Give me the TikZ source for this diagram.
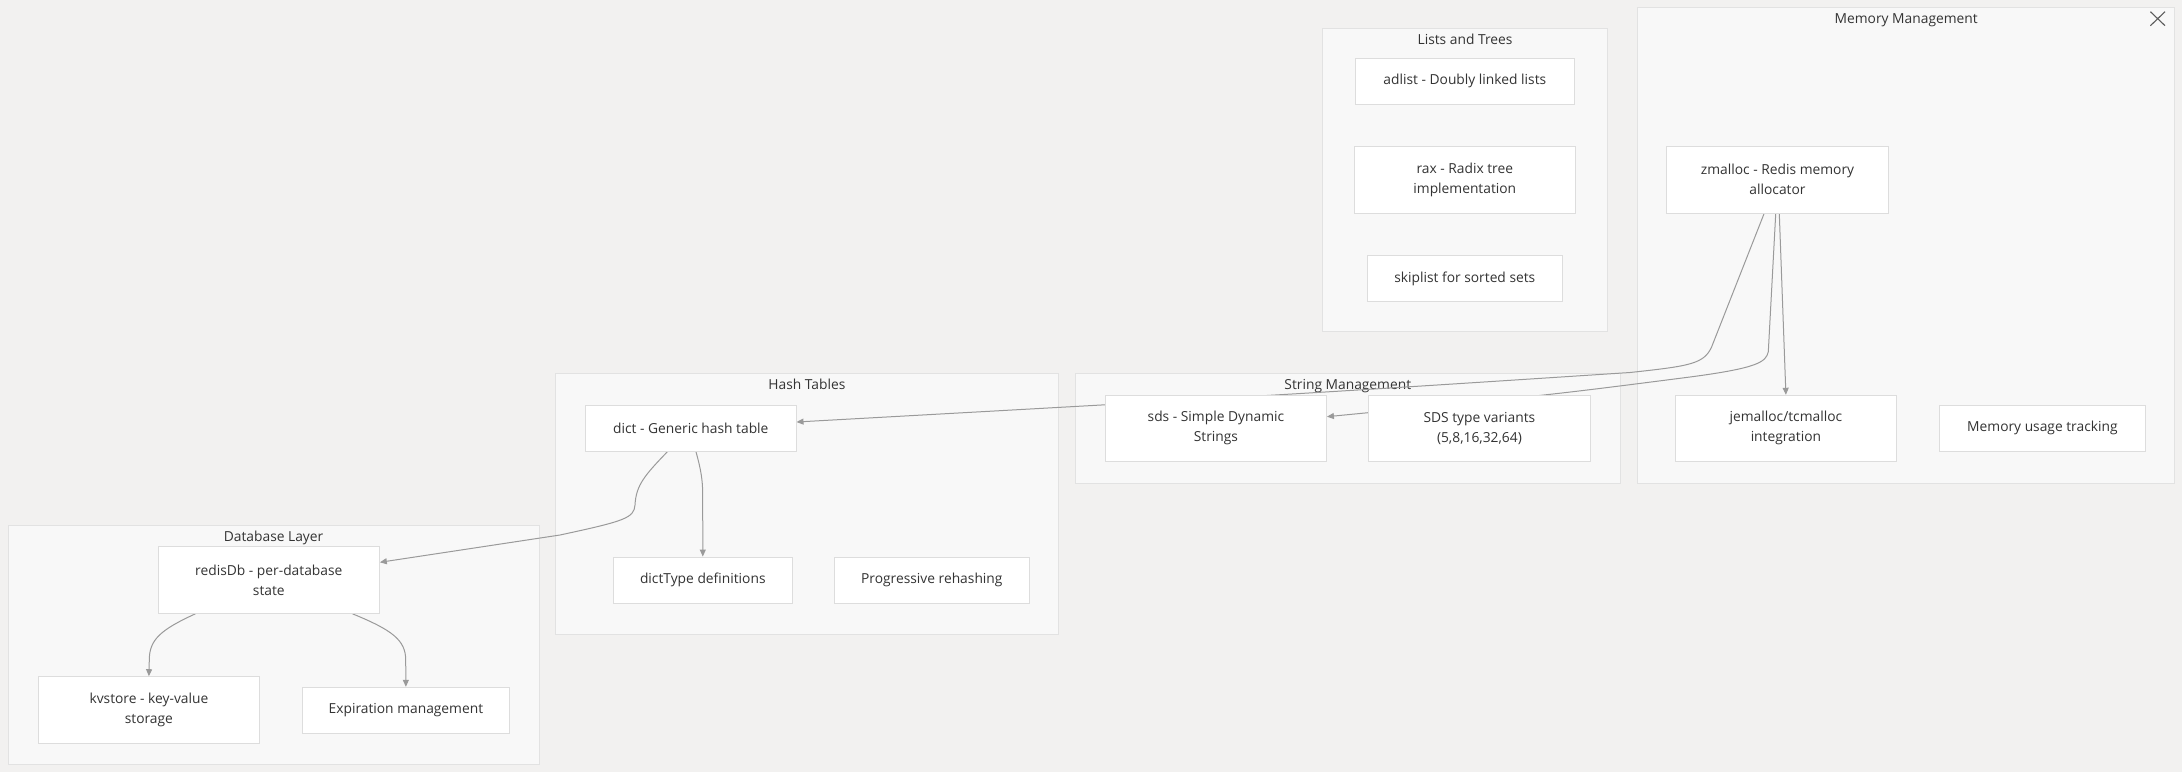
\documentclass[tikz,border=0pt]{standalone}
\usepackage{fontspec}
\setmainfont{Open Sans}
\usetikzlibrary{arrows, arrows.meta}
\usetikzlibrary{calc}

\definecolor{pagebg}{HTML}{F2F1F0}
\definecolor{clusterbg}{HTML}{F8F8F8}
\definecolor{clusterline}{HTML}{E2E2E2}
\definecolor{boxline}{HTML}{DDDDDD}
\definecolor{edgecol}{HTML}{9A9A9A}
\definecolor{textcol}{HTML}{333333}

\tikzset{
  cluster/.style={draw=clusterline, fill=clusterbg, line width=1pt, inner sep=0pt},
  ctitle/.style={text=textcol, font=\fontsize{13.8}{16}\selectfont, inner sep=0pt,
    text height=10pt, text depth=3pt},
  box/.style={draw=boxline, fill=white, line width=1pt, inner sep=0pt, align=center,
    text=textcol, font=\fontsize{13.8}{20}\selectfont},
  edge/.style={draw=edgecol, line width=1pt, -{Triangle[length=7pt, width=6pt]}}
}

\begin{document}
\begin{tikzpicture}[x=1pt, y=-1pt]
      \fill[pagebg] (0,0) rectangle (2182,772);
      \useasboundingbox (0,0) rectangle (2182,772);

      % subgraphs
      \node[cluster, minimum width=285.1pt, minimum height=303pt] (lists) at (1465,179.8) {};
      \node[cluster, minimum width=537.5pt, minimum height=476pt] (mem) at (1906.2,245.3) {};
      \node[cluster, minimum width=545.3pt, minimum height=109.7pt] (strings) at (1347.8,428.2) {};
      \node[cluster, minimum width=503pt, minimum height=261pt] (hash) at (806.9,503.8) {};
      \node[cluster, minimum width=530.8pt, minimum height=239.3pt] (db) at (273.6,644.7) {};

      \node[ctitle] (lists-t) at ([yshift=-13pt]lists.north) {Lists and Trees};
      \node[ctitle] (mem-t) at ([yshift=-13pt]mem.north) {Memory Management};
      \node[ctitle] (strings-t) at ([yshift=-13pt]strings.north) {String Management};
      \node[ctitle] (hash-t) at ([yshift=-13pt]hash.north) {Hash Tables};
      \node[ctitle] (db-t) at ([yshift=-13pt]db.north) {Database Layer};

      % close mark
      \draw[textcol!80, line width=1.1pt] (2150.4,11.7) -- (2165,25.7);
      \draw[textcol!80, line width=1.1pt] (2165,11.7) -- (2150.4,25.7);

      % nodes (placed first, drawn on top later)
      \path (1464.8,81.3) coordinate (adlist-c);
      \path (1777.5,179.8) coordinate (zmalloc-c);
      \path (1215.9,428.3) coordinate (sds-c);
      \path (1479.4,428.3) coordinate (sdsvar-c);
      \path (690.8,428.3) coordinate (dict-c);
      \path (268.8,580) coordinate (redisdb-c);

      \node[box, minimum width=221.6pt, minimum height=67pt] (zmalloc) at (zmalloc-c) {zmalloc - Redis memory\\allocator};
      \node[box, minimum width=221.7pt, minimum height=66pt] (jemalloc) at (1785.9,428.3) {jemalloc/tcmalloc\\integration};
      \node[box, minimum width=221pt, minimum height=66pt] (sds) at (sds-c) {sds - Simple Dynamic\\Strings};
      \node[box, minimum width=221.6pt, minimum height=66pt] (sdsvar) at (sdsvar-c) {SDS type variants\\(5,8,16,32,64)};
      \node[box, minimum width=210.4pt, minimum height=46pt] (dict) at (dict-c) {dict - Generic hash table};
      \node[box, minimum width=179.5pt, minimum height=46.3pt] (dicttype) at (702.8,580.2) {dictType definitions};
      \node[box, minimum width=221.1pt, minimum height=66.6pt] (redisdb) at (redisdb-c) {redisDb - per-database\\state};
      \node[box, minimum width=221.4pt, minimum height=66.6pt] (kvstore) at (148.9,710) {kvstore - key-value\\storage};
      \node[box, minimum width=206.8pt, minimum height=46pt] (expire) at (405.9,710.3) {Expiration management};

      % edges
      \draw[edge] ([xshift=-13.5pt]zmalloc.south) -- (1711.7,346.7)
        .. controls (1704,364) and (1690,366) .. (1630,372.5)
        .. controls (1300,394) .. ([yshift=6.3pt]dict.east);
      \draw[edge] ([xshift=-1.8pt]zmalloc.south) -- (1768.3,351.7)
        .. controls (1766,362) and (1758,368) .. (1690,377)
        .. controls (1550,395) .. ([yshift=11.6pt]sds.east);
      \draw[edge] ([xshift=1.8pt]zmalloc.south) -- (jemalloc.north);
      \draw[edge] ([xshift=-23.5pt]dict.south)
        .. controls (645,475) and (636,485) .. (635,505)
        .. controls (634,518) and (625,521) .. (560,535)
        -- ([yshift=17.7pt]redisdb.east);
      \draw[edge] ([xshift=5.2pt]dict.south)
        .. controls (701,470) and (702.7,480) .. (702.7,495) -- (dicttype.north);
      \draw[edge] ([xshift=-73.4pt]redisdb.south)
        .. controls (160,630) and (149.3,640) .. (149.3,660) -- (kvstore.north);
      \draw[edge] ([xshift=83.7pt]redisdb.south)
        .. controls (392,630) and (405.7,640) .. (405.7,660) -- (expire.north);

      % nodes over the edges
      \node[box, minimum width=221.6pt, minimum height=67pt] at (zmalloc-c) {zmalloc - Redis memory\\allocator};
      \node[box, minimum width=221pt, minimum height=66pt] at (sds-c) {sds - Simple Dynamic\\Strings};
      \node[box, minimum width=221.6pt, minimum height=66pt] at (sdsvar-c) {SDS type variants\\(5,8,16,32,64)};
      \node[box, minimum width=210.4pt, minimum height=46pt] at (dict-c) {dict - Generic hash table};
      \node[box, minimum width=221.1pt, minimum height=66.6pt] at (redisdb-c) {redisDb - per-database\\state};

      \node[box, minimum width=219.4pt, minimum height=46pt] (adlist) at (adlist-c) {adlist - Doubly linked lists};
      \node[box, minimum width=221.6pt, minimum height=67pt] (rax) at (1464.8,179.8) {rax - Radix tree\\implementation};
      \node[box, minimum width=194.5pt, minimum height=46.4pt] (skiplist) at (1464.8,278.5) {skiplist for sorted sets};
      \node[box, minimum width=205.8pt, minimum height=46pt] (memtrack) at (2042.4,428.3) {Memory usage tracking};
      \node[box, minimum width=194.4pt, minimum height=46.3pt] (rehash) at (931.8,580.2) {Progressive rehashing};
\end{tikzpicture}
\end{document}
